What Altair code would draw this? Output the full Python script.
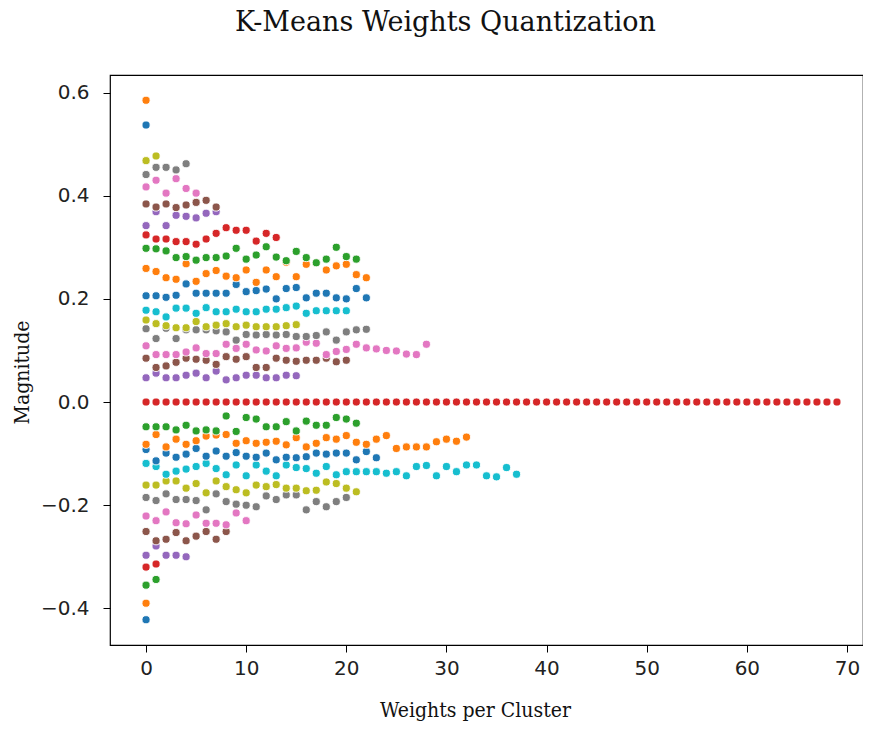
import altair as alt
import pandas as pd

# ---- data (cluster values, ordered from lowest centroid to highest) ----
c00 = [-0.422]
c01 = [-0.390]
c02 = [-0.355, -0.344]
c03 = [-0.320, -0.314]
c04 = [-0.297, -0.279, -0.297, -0.297, -0.300]
c05 = [-0.251, -0.269, -0.266, -0.253, -0.269, -0.260, -0.251, -0.266, -0.251]
c06 = [-0.221, -0.230, -0.213, -0.234, -0.236, -0.219, -0.235, -0.235, -0.238, -0.215, -0.230]
c07 = [-0.185, -0.191, -0.178, -0.189, -0.189, -0.191, -0.209, -0.178, -0.193, -0.198, -0.200,
       -0.203, -0.182, -0.189, -0.180, -0.180, -0.209, -0.193, -0.203, -0.193, -0.185]
c08 = [-0.161, -0.161, -0.153, -0.153, -0.167, -0.158, -0.176, -0.153, -0.164, -0.170, -0.176,
       -0.161, -0.164, -0.160, -0.167, -0.167, -0.172, -0.171, -0.155, -0.158, -0.167, -0.174]
c09 = [-0.119, -0.125, -0.140, -0.134, -0.130, -0.125, -0.119, -0.129, -0.141, -0.122, -0.143,
       -0.122, -0.134, -0.143, -0.122, -0.127, -0.129, -0.138, -0.125, -0.141, -0.135, -0.135,
       -0.135, -0.135, -0.138, -0.135, -0.143, -0.125, -0.123, -0.143, -0.125, -0.135, -0.122,
       -0.122, -0.143, -0.145, -0.127, -0.140]
c10 = [-0.092, -0.114, -0.099, -0.107, -0.101, -0.090, -0.105, -0.095, -0.105, -0.098, -0.105,
       -0.107, -0.099, -0.112, -0.107, -0.108, -0.106, -0.099, -0.101, -0.099, -0.099, -0.112,
       -0.096, -0.108]
c11 = [-0.082, -0.063, -0.087, -0.072, -0.082, -0.075, -0.066, -0.064, -0.063, -0.080, -0.075,
       -0.080, -0.078, -0.076, -0.083, -0.069, -0.087, -0.080, -0.069, -0.072, -0.065, -0.078,
       -0.082, -0.072, -0.065, -0.090, -0.087, -0.087, -0.087, -0.077, -0.072, -0.076, -0.068]
c12 = [-0.048, -0.048, -0.048, -0.054, -0.045, -0.056, -0.054, -0.056, -0.027, -0.057, -0.030,
       -0.033, -0.048, -0.048, -0.038, -0.056, -0.037, -0.045, -0.045, -0.030, -0.033, -0.041]
c13 = [0.0] * 70
c14 = [0.047, 0.056, 0.047, 0.047, 0.052, 0.056, 0.047, 0.060, 0.043, 0.047, 0.052, 0.052,
       0.047, 0.047, 0.052, 0.051]
c15 = [0.085, 0.067, 0.070, 0.077, 0.085, 0.083, 0.081, 0.073, 0.088, 0.083, 0.088, 0.067,
       0.067, 0.085, 0.081, 0.079, 0.081, 0.081, 0.085, 0.078, 0.081]
c16 = [0.109, 0.092, 0.092, 0.092, 0.097, 0.105, 0.094, 0.094, 0.112, 0.104, 0.112, 0.101,
       0.099, 0.109, 0.104, 0.105, 0.116, 0.114, 0.092, 0.098, 0.102, 0.112, 0.105, 0.103,
       0.100, 0.099, 0.093, 0.092, 0.112]
c17 = [0.142, 0.123, 0.143, 0.123, 0.140, 0.140, 0.140, 0.138, 0.136, 0.120, 0.131, 0.130,
       0.131, 0.130, 0.131, 0.127, 0.127, 0.129, 0.136, 0.120, 0.136, 0.140, 0.141]
c18 = [0.159, 0.152, 0.148, 0.144, 0.144, 0.156, 0.146, 0.149, 0.152, 0.146, 0.149, 0.146,
       0.146, 0.146, 0.148, 0.150]
c19 = [0.178, 0.175, 0.165, 0.182, 0.182, 0.172, 0.183, 0.175, 0.175, 0.180, 0.175, 0.175,
       0.180, 0.180, 0.183, 0.186, 0.172, 0.177, 0.177, 0.177, 0.177]
c20 = [0.206, 0.206, 0.203, 0.207, 0.229, 0.211, 0.211, 0.211, 0.211, 0.228, 0.214, 0.216,
       0.219, 0.200, 0.220, 0.222, 0.202, 0.211, 0.211, 0.202, 0.200, 0.220, 0.202]
c21 = [0.259, 0.253, 0.241, 0.238, 0.268, 0.234, 0.249, 0.255, 0.244, 0.241, 0.256, 0.232,
       0.256, 0.243, 0.271, 0.243, 0.267, 0.270, 0.256, 0.264, 0.267, 0.247, 0.241]
c22 = [0.298, 0.297, 0.293, 0.280, 0.282, 0.275, 0.280, 0.280, 0.283, 0.298, 0.277, 0.285,
       0.301, 0.281, 0.274, 0.292, 0.280, 0.270, 0.277, 0.300, 0.282, 0.277]
c23 = [0.324, 0.316, 0.316, 0.311, 0.311, 0.306, 0.316, 0.327, 0.338, 0.333, 0.333, 0.312,
       0.327, 0.319]
c24 = [0.342, 0.369, 0.342, 0.362, 0.360, 0.357, 0.366, 0.369]
c25 = [0.384, 0.378, 0.384, 0.377, 0.382, 0.387, 0.391, 0.378]
c26 = [0.417, 0.430, 0.405, 0.433, 0.414, 0.405]
c27 = [0.441, 0.455, 0.455, 0.450, 0.462]
c28 = [0.468, 0.477]
c29 = []
c30 = [0.537]
c31 = [0.585]

clusters = [c00, c01, c02, c03, c04, c05, c06, c07, c08, c09, c10, c11, c12, c13, c14, c15,
            c16, c17, c18, c19, c20, c21, c22, c23, c24, c25, c26, c27, c28, c29, c30, c31]

x_ticks = [0, 10, 20, 30, 40, 50, 60, 70]
y_ticks = [-0.4, -0.2, 0.0, 0.2, 0.4, 0.6]
tab10 = ["#1f77b4", "#ff7f0e", "#2ca02c", "#d62728", "#9467bd",
         "#8c564b", "#e377c2", "#7f7f7f", "#bcbd22", "#17becf"]

rows = []
for k, vals in enumerate(clusters):
    for i, v in enumerate(vals):
        rows.append({"i": i, "value": v, "cluster": k, "ci": k % 10})
df = pd.DataFrame(rows)

serif = "DejaVu Serif"
serif_cond = "DejaVu Serif Condensed, DejaVu Serif"
sans = "DejaVu Sans"

chart = alt.Chart(df).mark_circle(
    size=66, opacity=1, stroke="white", strokeWidth=0.9
).encode(
    x=alt.X("i:Q",
            scale=alt.Scale(domain=[-3.6, 71.6], nice=False, zero=False),
            axis=alt.Axis(values=x_ticks, title="Weights per Cluster", grid=False,
                          domain=False, tickColor="black", tickSize=7, labelPadding=6,
                          labelFont=sans, labelFontSize=20, labelColor="#222",
                          titleFont=serif_cond, titleFontSize=21, titleFontWeight="normal",
                          titleColor="#111", titleX=365, titleY=54,
                          titleBaseline="top")),
    y=alt.Y("value:Q",
            scale=alt.Scale(domain=[-0.471, 0.634], nice=False, zero=False),
            axis=alt.Axis(values=y_ticks, format=".1f", title="Magnitude", grid=False,
                          domain=False, tickColor="black", tickSize=7, labelPadding=14,
                          labelFont=sans, labelFontSize=20, labelColor="#222",
                          titleFont=serif_cond, titleFontSize=21, titleFontWeight="normal",
                          titleColor="#111", titleX=-88, titleY=297,
                          titleBaseline="middle")),
    color=alt.Color("ci:N", scale=alt.Scale(domain=list(range(10)), range=tab10), legend=None),
).properties(
    width=753,
    height=570,
    title=alt.TitleParams(text="K-Means Weights Quantization", font=serif, fontSize=27,
                          fontWeight="normal", color="#111", anchor="middle", dx=-41,
                          offset=38),
    autosize=alt.AutoSizeParams(type="none"),
    padding={"left": 102, "top": 67, "right": 0, "bottom": 76},
).configure_view(stroke="black", strokeWidth=1.2)

chart.save("out.html", embed_options={"renderer": "svg", "actions": False})
